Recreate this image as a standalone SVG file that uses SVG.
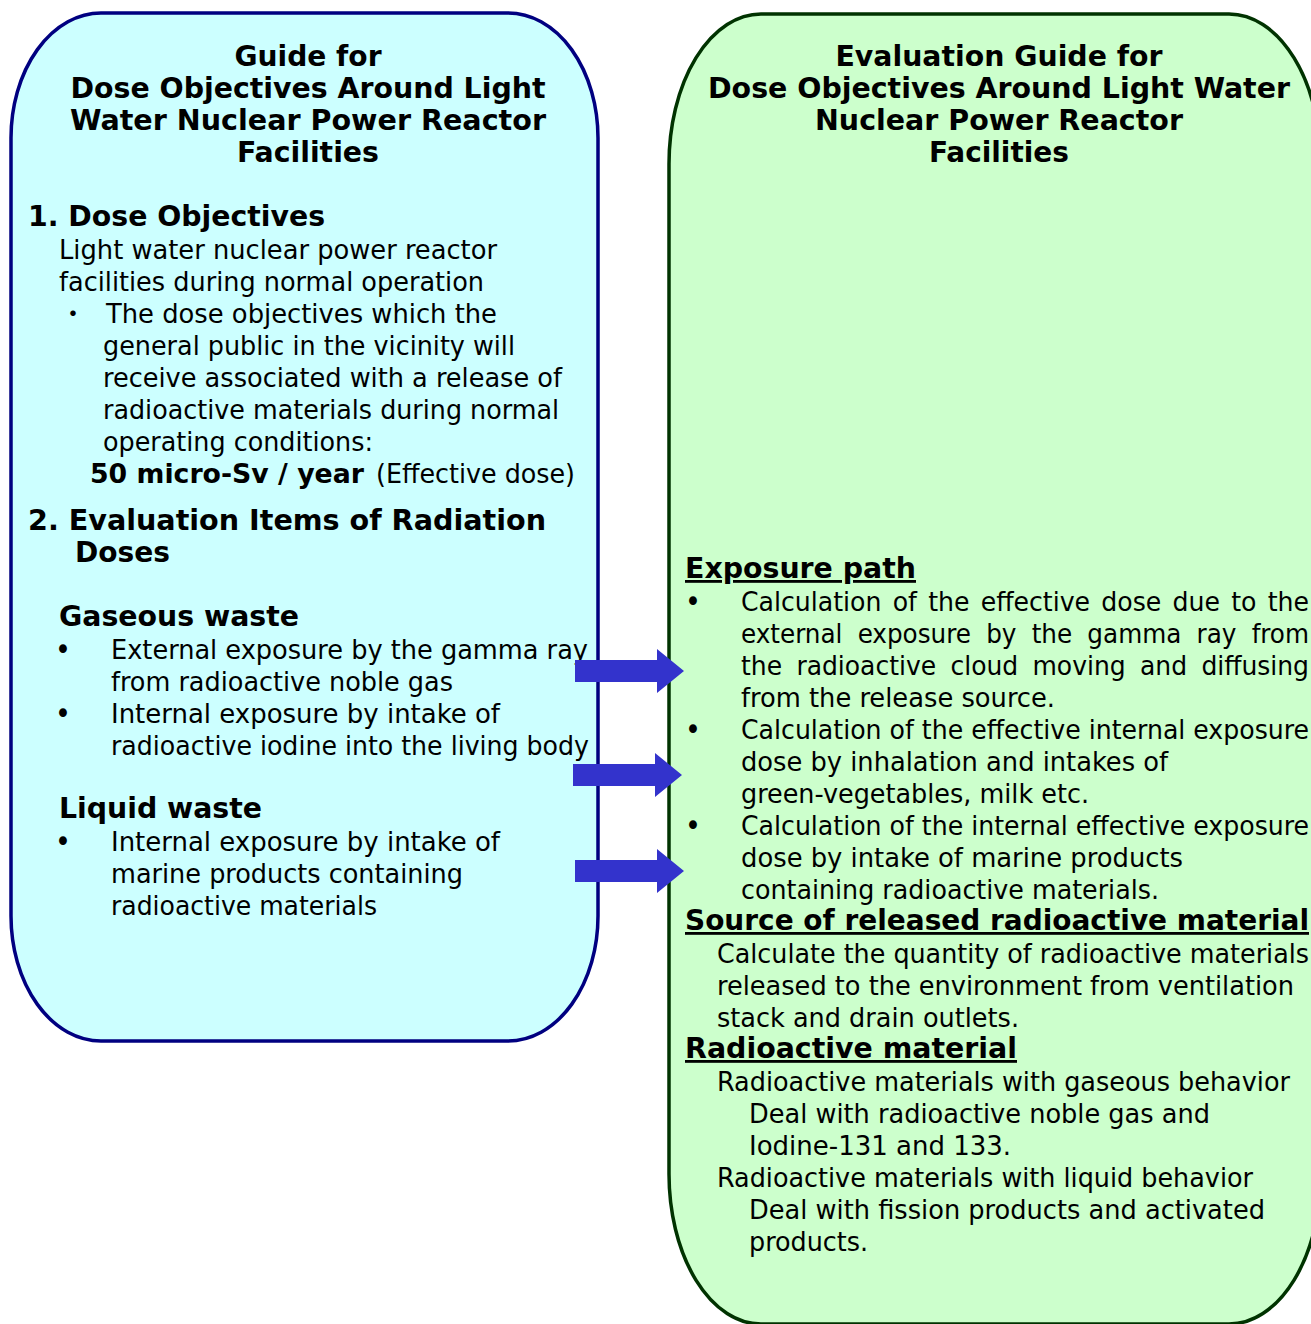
<svg xmlns="http://www.w3.org/2000/svg" xmlns:xlink="http://www.w3.org/1999/xlink" width="1311" height="1324" viewBox="0 0 1311 1324">
  <style>
    text { font-family: "DejaVu Sans Condensed", "DejaVu Sans", "Noto Sans CJK JP", sans-serif; fill: #000; }
    .t { font-size: 26px; }
    .b { font-size: 28px; font-weight: bold; }
    .h { font-size: 29px; font-weight: bold; text-anchor: middle; }
    .u { text-decoration: underline; }
    .dot { font-size: 30px; }
    .blue { fill: #CCFFFF; stroke: #000080; stroke-width: 3.5; }
    .green { fill: #CCFFCC; stroke: #003300; stroke-width: 3.5; }
    .arrow { fill: #3333CC; }
  </style>
  <defs>
    <path id="blockArrow" d="M0,-11 H82 V-22 L109,0 L82,22 V11 H0 Z"/>
  </defs>

  <rect width="1311" height="1324" fill="#FFFFFF"/>

  <!-- Guide (left panel) -->
  <g id="guide">
    <rect class="blue" x="11" y="13" width="587" height="1028" rx="90" ry="125"/>
    <text class="h" x="308" y="66" textLength="147" lengthAdjust="spacingAndGlyphs">Guide for</text>
    <text class="h" x="308" y="98" textLength="475" lengthAdjust="spacingAndGlyphs">Dose Objectives Around Light</text>
    <text class="h" x="308" y="130" textLength="476" lengthAdjust="spacingAndGlyphs">Water Nuclear Power Reactor</text>
    <text class="h" x="308" y="162" textLength="142" lengthAdjust="spacingAndGlyphs">Facilities</text>

    <text class="b" x="28" y="226" textLength="297" lengthAdjust="spacingAndGlyphs">1. Dose Objectives</text>
    <text class="t" x="59" y="259" textLength="438" lengthAdjust="spacingAndGlyphs">Light water nuclear power reactor</text>
    <text class="t" x="59" y="291" textLength="425" lengthAdjust="spacingAndGlyphs">facilities during normal operation</text>
    <text class="t" x="60" y="323">・</text>
    <text class="t" x="106" y="323" textLength="391" lengthAdjust="spacingAndGlyphs">The dose objectives which the</text>
    <text class="t" x="103" y="355" textLength="412" lengthAdjust="spacingAndGlyphs">general public in the vicinity will</text>
    <text class="t" x="103" y="387" textLength="459" lengthAdjust="spacingAndGlyphs">receive associated with a release of</text>
    <text class="t" x="103" y="419" textLength="456" lengthAdjust="spacingAndGlyphs">radioactive materials during normal</text>
    <text class="t" x="103" y="451" textLength="270" lengthAdjust="spacingAndGlyphs">operating conditions:</text>
    <text class="b" x="90" y="483" style="font-size:26px" textLength="274" lengthAdjust="spacingAndGlyphs">50 micro-Sv / year</text>
    <text class="t" x="376" y="483" textLength="199" lengthAdjust="spacingAndGlyphs">(Effective dose)</text>

    <text class="b" x="28" y="530" textLength="518" lengthAdjust="spacingAndGlyphs">2. Evaluation Items of Radiation</text>
    <text class="b" x="75" y="562" textLength="95" lengthAdjust="spacingAndGlyphs">Doses</text>

    <text class="b" x="59" y="626" textLength="240" lengthAdjust="spacingAndGlyphs">Gaseous waste</text>
    <text class="t dot" x="55" y="660">•</text>
    <text class="t" x="111" y="659" textLength="477" lengthAdjust="spacingAndGlyphs">External exposure by the gamma ray</text>
    <text class="t" x="111" y="691" textLength="342" lengthAdjust="spacingAndGlyphs">from radioactive noble gas</text>
    <text class="t dot" x="55" y="724">•</text>
    <text class="t" x="111" y="723" textLength="389" lengthAdjust="spacingAndGlyphs">Internal exposure by intake of</text>
    <text class="t" x="111" y="755" textLength="478" lengthAdjust="spacingAndGlyphs">radioactive iodine into the living body</text>

    <text class="b" x="59" y="818" textLength="203" lengthAdjust="spacingAndGlyphs">Liquid waste</text>
    <text class="t dot" x="55" y="852">•</text>
    <text class="t" x="111" y="851" textLength="389" lengthAdjust="spacingAndGlyphs">Internal exposure by intake of</text>
    <text class="t" x="111" y="883" textLength="352" lengthAdjust="spacingAndGlyphs">marine products containing</text>
    <text class="t" x="111" y="915" textLength="266" lengthAdjust="spacingAndGlyphs">radioactive materials</text>
  </g>

  <!-- Evaluation guide (right panel) -->
  <g id="evaluation-guide">
    <rect class="green" x="669" y="14" width="652" height="1310" rx="92" ry="150"/>
    <text class="h" x="999" y="66" textLength="327" lengthAdjust="spacingAndGlyphs">Evaluation Guide for</text>
    <text class="h" x="999" y="98" textLength="582" lengthAdjust="spacingAndGlyphs">Dose Objectives Around Light Water</text>
    <text class="h" x="999" y="130" textLength="368" lengthAdjust="spacingAndGlyphs">Nuclear Power Reactor</text>
    <text class="h" x="999" y="162" textLength="140" lengthAdjust="spacingAndGlyphs">Facilities</text>

    <text class="b u" x="685" y="578" textLength="231" lengthAdjust="spacingAndGlyphs">Exposure path</text>
    <text class="t dot" x="685" y="612">•</text>
    <text class="t" x="741" y="611" word-spacing="3" textLength="568" lengthAdjust="spacingAndGlyphs">Calculation of the effective dose due to the</text>
    <text class="t" x="741" y="643" word-spacing="7" textLength="568" lengthAdjust="spacingAndGlyphs">external exposure by the gamma ray from</text>
    <text class="t" x="741" y="675" word-spacing="6" textLength="568" lengthAdjust="spacingAndGlyphs">the radioactive cloud moving and diffusing</text>
    <text class="t" x="741" y="707" textLength="314" lengthAdjust="spacingAndGlyphs">from the release source.</text>
    <text class="t dot" x="685" y="740">•</text>
    <text class="t" x="741" y="739" textLength="568" lengthAdjust="spacingAndGlyphs">Calculation of the effective internal exposure</text>
    <text class="t" x="741" y="771" textLength="427" lengthAdjust="spacingAndGlyphs">dose by inhalation and intakes of</text>
    <text class="t" x="741" y="803" textLength="348" lengthAdjust="spacingAndGlyphs">green-vegetables, milk etc.</text>
    <text class="t dot" x="685" y="836">•</text>
    <text class="t" x="741" y="835" textLength="568" lengthAdjust="spacingAndGlyphs">Calculation of the internal effective exposure</text>
    <text class="t" x="741" y="867" textLength="442" lengthAdjust="spacingAndGlyphs">dose by intake of marine products</text>
    <text class="t" x="741" y="899" textLength="418" lengthAdjust="spacingAndGlyphs">containing radioactive materials.</text>

    <text class="b u" x="685" y="930" textLength="624" lengthAdjust="spacingAndGlyphs">Source of released radioactive material</text>
    <text class="t" x="717" y="963" textLength="592" lengthAdjust="spacingAndGlyphs">Calculate the quantity of radioactive materials</text>
    <text class="t" x="717" y="995" textLength="577" lengthAdjust="spacingAndGlyphs">released to the environment from ventilation</text>
    <text class="t" x="717" y="1027" textLength="302" lengthAdjust="spacingAndGlyphs">stack and drain outlets.</text>

    <text class="b u" x="685" y="1058" textLength="332" lengthAdjust="spacingAndGlyphs">Radioactive material</text>
    <text class="t" x="717" y="1091" textLength="573" lengthAdjust="spacingAndGlyphs">Radioactive materials with gaseous behavior</text>
    <text class="t" x="749" y="1123" textLength="461" lengthAdjust="spacingAndGlyphs">Deal with radioactive noble gas and</text>
    <text class="t" x="749" y="1155" textLength="262" lengthAdjust="spacingAndGlyphs">Iodine-131 and 133.</text>
    <text class="t" x="717" y="1187" textLength="536" lengthAdjust="spacingAndGlyphs">Radioactive materials with liquid behavior</text>
    <text class="t" x="749" y="1219" textLength="516" lengthAdjust="spacingAndGlyphs">Deal with fission products and activated</text>
    <text class="t" x="749" y="1251" textLength="119" lengthAdjust="spacingAndGlyphs">products.</text>
  </g>

  <!-- Block arrows linking the gaseous and liquid items to the exposure paths -->
  <g id="connectors" class="arrow">
    <use xlink:href="#blockArrow" x="575" y="671"/>
    <use xlink:href="#blockArrow" x="573" y="775"/>
    <use xlink:href="#blockArrow" x="575" y="871"/>
  </g>
</svg>
